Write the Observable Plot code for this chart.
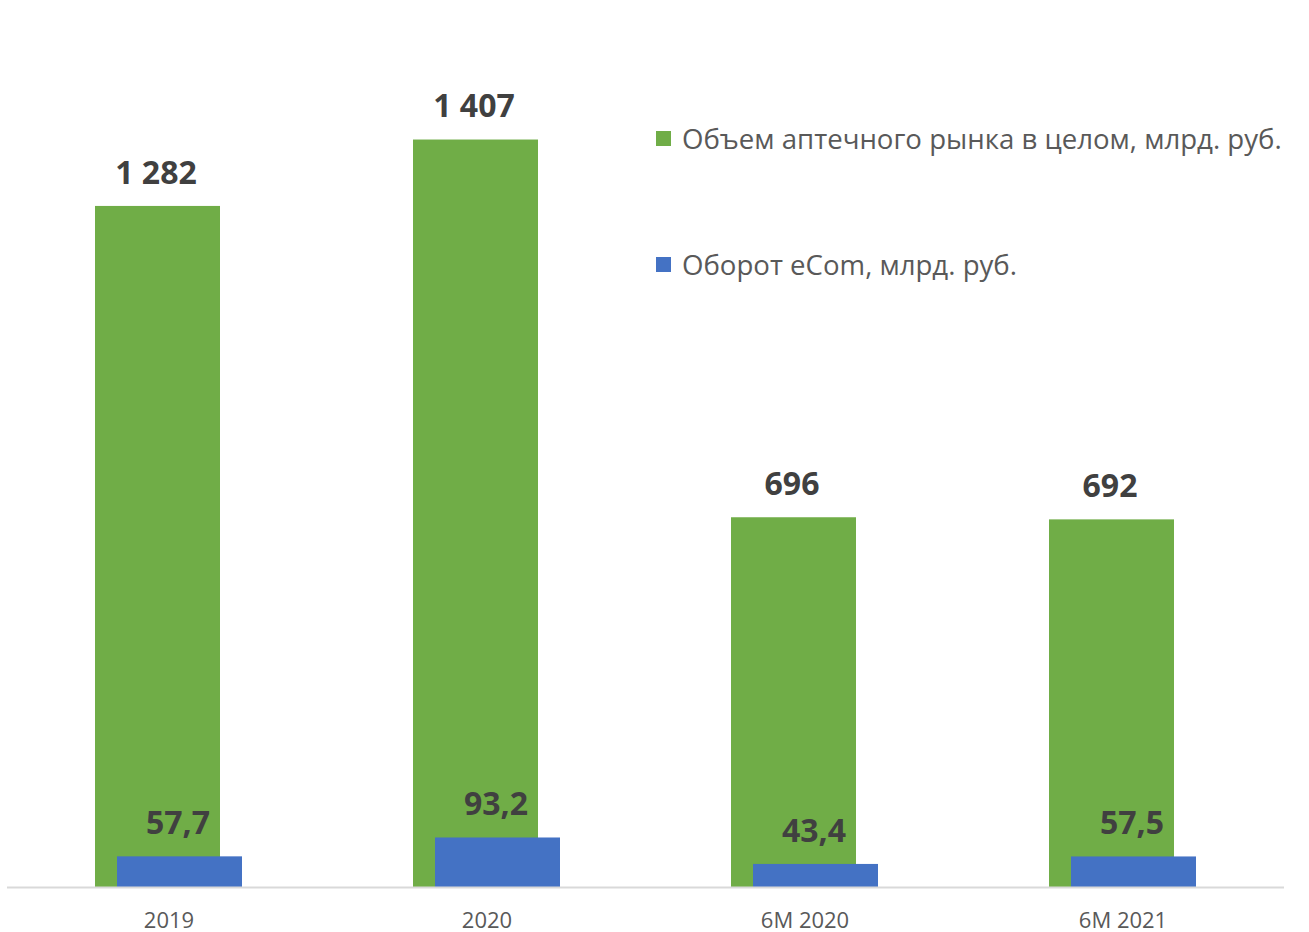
<!DOCTYPE html>
<html>
<head>
<meta charset="utf-8">
<script src="https://cdn.jsdelivr.net/npm/d3@7"></script>
<script src="https://cdn.jsdelivr.net/npm/@observablehq/plot@0.6"></script>
<style>
  html, body { margin: 0; padding: 0; background: #fff; }
  #wrap { position: relative; width: 1309px; height: 932px; font-family: "Open Sans", sans-serif; }
  .legend { position: absolute; left: 656px; display: flex; align-items: center; font-size: 27.6px; color: #595959; white-space: nowrap; }
  .legend .sw { width: 15px; height: 15px; margin-right: 11px; }
</style>
</head>
<body>
<div id="wrap">
  <div id="chart"></div>
</div>
<script>
const categories = ["2019", "2020", "6М 2020", "6М 2021"];
const marketValues = [1282, 1407, 696, 692];
const ecomValues = [57.7, 93.2, 43.4, 57.5];
const seriesNames = ["Объем аптечного рынка в целом, млрд. руб.", "Оборот eCom, млрд. руб."];
const seriesColors = ["#70AD47", "#4472C4"];

const market = categories.map((c, i) => ({cat: c, value: marketValues[i]}));
const ecom = categories.map((c, i) => ({cat: c, value: ecomValues[i]}));

const loc = d3.formatLocale({decimal: ",", thousands: "\u00A0", grouping: [3], currency: ["", ""]});
const fmtInt = loc.format(",");
const fmtDec = loc.format(",.1f");

const labelStyle = {fontSize: 32, fontWeight: "bold", fill: "#404040", lineAnchor: "middle", dy: -33};

const chart = Plot.plot({
  width: 1309,
  height: 932,
  marginLeft: 7,
  marginRight: 25,
  marginTop: 37,
  marginBottom: 45,
  style: {fontFamily: "'Open Sans', sans-serif", background: "#fff", overflow: "visible"},
  x: {domain: categories, paddingInner: 0.5373, paddingOuter: 0.2737, label: null},
  y: {domain: [0, 1600], axis: null},
  marks: [
    Plot.barY(market, {x: "cat", y: "value", fill: seriesColors[0], insetRight: 22}),
    Plot.barY(ecom, {x: "cat", y: "value", fill: seriesColors[1], insetLeft: 22}),
    Plot.ruleY([0], {stroke: "#d9d9d9", strokeWidth: 2}),
    Plot.text(market, {x: "cat", y: "value", text: d => fmtInt(d.value), dx: -13, ...labelStyle}),
    Plot.text(ecom, {x: "cat", y: "value", text: d => fmtDec(d.value), dx: 9, ...labelStyle}),
    Plot.axisX({tickSize: 0, tickPadding: 25, fontSize: 22, color: "#595959", label: null})
  ]
});
document.getElementById("chart").appendChild(chart);

const wrap = document.getElementById("wrap");
const legendTops = [139, 265];
seriesNames.forEach((name, i) => {
  const row = document.createElement("div");
  row.className = "legend";
  row.style.top = (legendTops[i] - 19) + "px";
  row.style.height = "36px";
  const sw = document.createElement("span");
  sw.className = "sw";
  sw.style.background = seriesColors[i];
  const tx = document.createElement("span");
  tx.textContent = name;
  row.appendChild(sw);
  row.appendChild(tx);
  wrap.appendChild(row);
});
</script>
</body>
</html>
